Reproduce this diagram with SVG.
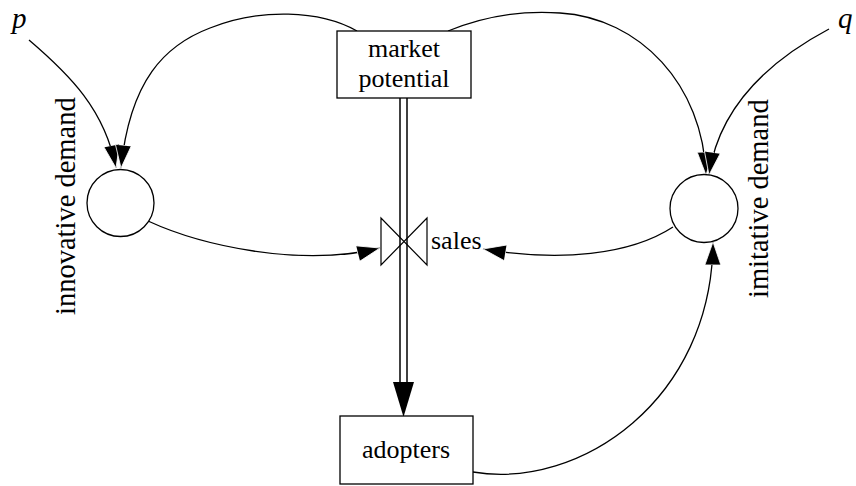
<svg xmlns="http://www.w3.org/2000/svg" width="856" height="486" viewBox="0 0 856 486">
<style>
.box{fill:#fff;stroke:#000;stroke-width:1.3}
.circ{fill:#fff;stroke:#000;stroke-width:1.3}
.t{font-family:"Liberation Serif",serif;font-size:26px;fill:#000}
.lab{font-family:"Liberation Serif",serif;font-size:28.5px;fill:#000}
.var{font-family:"Liberation Serif",serif;font-style:italic;font-size:29px;fill:#000}
.link{fill:none;stroke:#000;stroke-width:1.3}
.pipe{stroke:#000;stroke-width:1.5;fill:none}
.valve{fill:none;stroke:#000;stroke-width:1.2}
</style>
<defs>
<marker id="ah" markerUnits="userSpaceOnUse" markerWidth="26" markerHeight="18" refX="23" refY="8" orient="auto">
<path d="M0,0 L23,8 L0,16 z" fill="#000" stroke="#fff" stroke-width="0.8"/>
</marker>
</defs>
<g id="connectors">
<path class="link" d="M29,40 C70,75 105,110 116,168" marker-end="url(#ah)"/>
<path class="link" d="M357,31 C320,10 260,8 210,28 C165,45 130,80 121,168" marker-end="url(#ah)"/>
<path class="link" d="M448,31 C480,18 520,10 560,13 C640,18 703,85 706,175" marker-end="url(#ah)"/>
<path class="link" d="M829,29 C780,55 720,100 709,175" marker-end="url(#ah)"/>
<path class="link" d="M148,221 C200,245 300,268 380,248" marker-end="url(#ah)"/>
<path class="link" d="M673,227 C630,255 560,262 483,249" marker-end="url(#ah)"/>
<path class="link" d="M473,472 C580,490 712,400 713,242" marker-end="url(#ah)"/>
<line class="pipe" x1="400" y1="98" x2="400" y2="383"/>
<line class="pipe" x1="407" y1="98" x2="407" y2="383"/>
<polygon points="393,382 414,382 403.5,417" fill="#000"/>
</g>
<g id="market-potential">
<rect class="box" x="337" y="31" width="134" height="67"/>
<text class="t" x="404" y="57" text-anchor="middle">market</text>
<text class="t" x="404" y="87" text-anchor="middle">potential</text>
</g>
<g id="adopters">
<rect class="box" x="340" y="416" width="133" height="68"/>
<text class="t" x="406" y="458" text-anchor="middle">adopters</text>
</g>
<g id="sales">
<polygon class="valve" points="381,218 381,265 427,218 427,265"/>
<text class="t" x="431" y="249">sales</text>
</g>
<g id="innovative-demand">
<circle class="circ" cx="120.5" cy="203" r="33.5"/>
<text class="lab" transform="translate(75,315) rotate(-90)">innovative demand</text>
</g>
<g id="imitative-demand">
<circle class="circ" cx="704" cy="208.5" r="34"/>
<text class="lab" transform="translate(768,298) rotate(-90)">imitative demand</text>
</g>
<g id="p">
<text class="var" x="12" y="28">p</text>
</g>
<g id="q">
<text class="var" x="838" y="28">q</text>
</g>
</svg>
